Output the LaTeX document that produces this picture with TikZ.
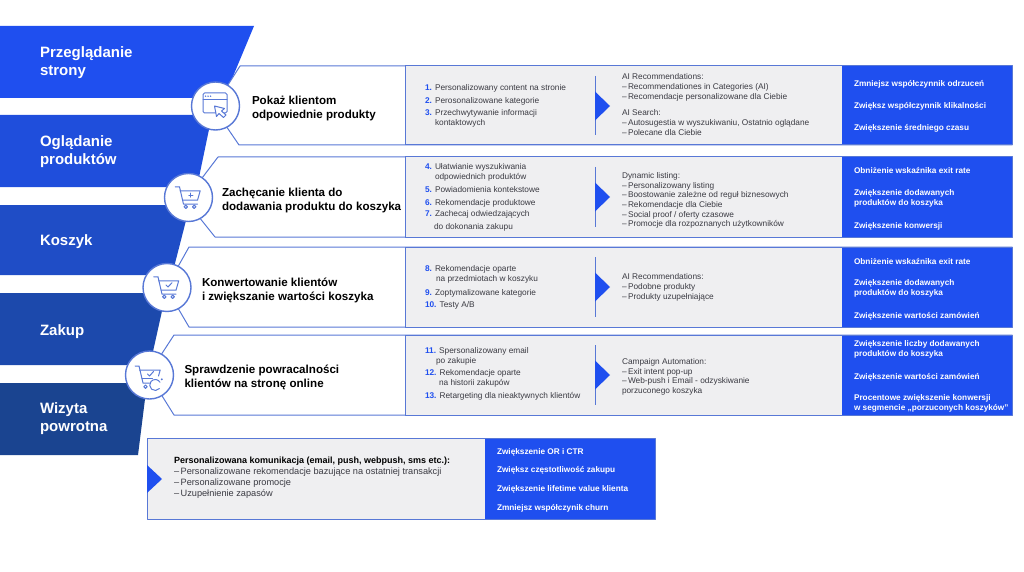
\documentclass[tikz,border=0pt]{standalone}
\usepackage{fontspec}
\setmainfont{Liberation Sans}
\definecolor{lineblue}{HTML}{5878D6}
\definecolor{brand}{HTML}{1F4FEF}
\definecolor{band1}{HTML}{1F4FEF}
\definecolor{band2}{HTML}{1F4EDC}
\definecolor{band3}{HTML}{1F4DC6}
\definecolor{band4}{HTML}{1C49AC}
\definecolor{band5}{HTML}{1A4490}
\definecolor{panel}{HTML}{EFEFF1}
\definecolor{bodyink}{HTML}{3A3A42}
\newcommand{\numb}[1]{\textcolor{brand}{\textbf{#1}}}
\newcommand{\ind}[1]{\hspace*{#1pt}}
\tikzset{
  every node/.style={inner sep=0pt,outer sep=0pt},
  txt/.style={anchor=west,align=left,yshift=-2pt,execute at begin node=\strut,execute at end node=\strut},
  bandlabel/.style={txt,yshift=-1pt,text=white,font=\fontsize{15}{18}\selectfont\bfseries},
  rowtitle/.style={txt,text=black,font=\fontsize{11.6}{14}\selectfont\bfseries},
  listitem/.style={txt,text=bodyink,font=\fontsize{8.3}{10}\selectfont},
  tool/.style={txt,text=bodyink,font=\fontsize{8.3}{9.67}\selectfont},
  goal/.style={txt,text=white,font=\fontsize{8.25}{10}\selectfont\bfseries},
  rowline/.style={draw=lineblue,line width=1pt,line join=round},
  iconline/.style={draw=lineblue,line width=1pt,line join=round,line cap=round},
  badge/.style={circle,draw=lineblue,fill=white,line width=1.4pt,minimum size=48pt},
  tri/.style={fill=brand},
}
\newcommand{\rowbox}[9]{% x1 y1 x2 y2 x3 y3 x4 y4 arrow-centre
  \draw[rowline,fill=white] (#1,#2) -- (1012,#2) -- (1012,#4) -- (#3,#4) -- (#5,#6) -- (#7,#8) -- cycle;
  \fill[panel] (405,#2) rectangle (841.5,#4);
  \fill[brand] (841.5,#2) rectangle (1012,#4);
  \draw[rowline] (405,#2) -- (1012,#2) -- (1012,#4) -- (405,#4);
  \draw[rowline] (405,#2) -- (405,#4);
  \draw[draw=lineblue,line width=0.8pt] (595,#2+10) -- (595,#4-10);
  \fill[tri] (595,#9-14.5) -- (610,#9) -- (595,#9+14.5) -- cycle;
}
\begin{document}
\begin{tikzpicture}[x=1pt,y=-1pt]
\useasboundingbox (0,0) rectangle (1024,572);
% funnel bands
\fill[band1] (0,26) -- (254,26) -- (224,98) -- (0,98) -- cycle;
\fill[band2] (0,115) -- (212,115) -- (197,187) -- (0,187) -- cycle;
\fill[band3] (0,205) -- (190,205) -- (172,275) -- (0,275) -- cycle;
\fill[band4] (0,293) -- (166,293) -- (150,365) -- (0,365) -- cycle;
\fill[band5] (0,383) -- (147,383) -- (138,455) -- (0,455) -- cycle;
\node[bandlabel] (b1) at (40,61) {Przeglądanie\\strony};
\node[bandlabel] (b2) at (40,150) {Oglądanie\\produktów};
\node[bandlabel] (b3) at (40,239) {Koszyk};
\node[bandlabel] (b4) at (40,329) {Zakup};
\node[bandlabel] (b5) at (40,417) {Wizyta\\powrotna};
% rows
\rowbox{240}{66}{239}{145}{224}{123}{226}{88}{106}
\rowbox{218}{157}{215}{237}{199}{217}{199}{182}{197}
\rowbox{189}{247}{189}{327}{175}{303}{175}{272}{287}
\rowbox{174}{335}{174}{415}{159}{391}{159}{358}{375}
% badges
\node[badge] (c1) at (215.5,106) {};
\node[badge] (c2) at (188.5,197.5) {};
\node[badge] (c3) at (167,287.5) {};
\node[badge] (c4) at (149.5,375) {};
% icon 1: browser window and pointer
\begin{scope}[shift={(c1.center)}]
  \draw[iconline,rounded corners=1.5pt] (-12.5,-13) rectangle (11.5,7);
  \draw[iconline] (-12.5,-6.5) -- (11.5,-6.5);
  \fill[lineblue] (-10,-9.8) circle (0.8) (-7.5,-9.8) circle (0.8) (-5,-9.8) circle (0.8);
  \draw[iconline,fill=white] (-1,0) -- (9,2.5) -- (6,5) -- (10.5,9) -- (8,11.5) -- (3.5,7.5) -- (1,10.5) -- cycle;
\end{scope}
% icon 2: cart with plus
\begin{scope}[shift={(c2.center)}]
  \draw[iconline] (-13.3,-10.7) -- (-9,-10.7) -- (-5,6.7) -- (9,6.7);
  \draw[iconline] (-8.5,-6.7) -- (11.7,-6.7) -- (9,2.7) -- (-6,2.7);
  \draw[iconline] (-2.7,9.3) circle (1.7) (5.7,9.3) circle (1.7);
  \draw[iconline] (0.3,-2.3) -- (4.3,-2.3) (2.3,-4.3) -- (2.3,-0.3);
\end{scope}
% icon 3: cart with tick
\begin{scope}[shift={(c3.center)}]
  \draw[iconline] (-13.3,-10.7) -- (-9,-10.7) -- (-5,6.7) -- (9,6.7);
  \draw[iconline] (-8.5,-6.7) -- (11.7,-6.7) -- (9,2.7) -- (-6,2.7);
  \draw[iconline] (-2.7,9.3) circle (1.7) (5.7,9.3) circle (1.7);
  \draw[iconline] (-1,-2.5) -- (1,-0.5) -- (5,-4.8);
\end{scope}
% icon 4: cart with tick and return arrow
\begin{scope}[shift={(c4.center)}]
  \draw[iconline] (-14.3,-9) -- (-10.5,-9) -- (-6.5,8) -- (0,8);
  \draw[iconline] (-10,-5) -- (10.7,-5) -- (9,1);
  \draw[iconline] (-7.5,3) -- (3,3);
  \draw[iconline] (-4,11.7) circle (1.7);
  \draw[iconline] (-2,-1) -- (0,1) -- (4,-3.5);
  \draw[iconline] (5.7,10) ++(40:5.5) arc[start angle=40,end angle=330,radius=5.5];
  \fill[lineblue] (12.3,4.3) circle (1.1);
\end{scope}
% row titles
\node[rowtitle] (t1) at (252,107) {Pokaż klientom\\odpowiednie produkty};
\node[rowtitle] (t2) at (222,199) {Zachęcanie klienta do\\dodawania produktu do koszyka};
\node[rowtitle] (t3) at (202,289) {Konwertowanie klientów\\i zwiększanie wartości koszyka};
\node[rowtitle] (t4) at (184.5,376) {Sprawdzenie powracalności\\klientów na stronę online};
% list items
\node[listitem] (i1) at (425,87) {\numb{1.} Personalizowany content na stronie};
\node[listitem] (i2) at (425,100) {\numb{2.} Perosonalizowane kategorie};
\node[listitem] (i3) at (425,117) {\numb{3.} Przechwytywanie informacji\\\ind{10}kontaktowych};
\node[listitem] (i4) at (425,171) {\numb{4.} Ułatwianie wyszukiwania\\\ind{10}odpowiednich produktów};
\node[listitem] (i5) at (425,188) {\numb{5.} Powiadomienia kontekstowe};
\node[listitem] (i6) at (425,201) {\numb{6.} Rekomendacje produktowe};
\node[listitem,font=\fontsize{8.3}{13}\selectfont] (i7) at (425,219.5) {\numb{7.} Zachecaj odwiedzających\\\ind{9}do dokonania zakupu};
\node[listitem] (i8) at (425,273) {\numb{8.} Rekomendacje oparte\\\ind{11}na przedmiotach w koszyku};
\node[listitem] (i9) at (425,291) {\numb{9.} Zoptymalizowane kategorie};
\node[listitem] (i10) at (425,303) {\numb{10.} Testy A/B};
\node[listitem] (i11) at (425,355) {\numb{11.} Spersonalizowany email\\\ind{11}po zakupie};
\node[listitem] (i12) at (425,377) {\numb{12.} Rekomendacje oparte\\\ind{14}na historii zakupów};
\node[listitem] (i13) at (425,394) {\numb{13.} Retargeting dla nieaktywnych klientów};
% tools
\node[tool] (p1) at (622,86) {AI Recommendations:\\–\,Recommendationes in Categories (AI)\\–\,Recomendacje personalizowane dla Ciebie};
\node[tool] (p2) at (622,122) {AI Search:\\–\,Autosugestia w wyszukiwaniu, Ostatnio oglądane\\–\,Polecane dla Ciebie};
\node[tool] (p3) at (622,199) {Dynamic listing:\\–\,Personalizowany listing\\–\,Boostowanie zależne od reguł biznesowych\\–\,Rekomendacje dla Ciebie\\–\,Social proof / oferty czasowe\\–\,Promocje dla rozpoznanych użytkowników};
\node[tool] (p4) at (622,286) {AI Recommendations:\\–\,Podobne produkty\\–\,Produkty uzupełniające};
\node[tool] (p5) at (622,375.5) {Campaign Automation:\\–\,Exit intent pop-up\\–\,Web-push i Email - odzyskiwanie\\porzuconego koszyka};
% goals
\node[goal] (g1) at (854,83) {Zmniejsz współczynnik odrzuceń};
\node[goal] (g2) at (854,105) {Zwiększ współczynnik klikalności};
\node[goal] (g3) at (854,127) {Zwiększenie średniego czasu};
\node[goal] (g4) at (854,170) {Obniżenie wskaźnika exit rate};
\node[goal] (g5) at (854,197) {Zwiększenie dodawanych\\produktów do koszyka};
\node[goal] (g6) at (854,224) {Zwiększenie konwersji};
\node[goal] (g7) at (854,260) {Obniżenie wskaźnika exit rate};
\node[goal] (g8) at (854,287) {Zwiększenie dodawanych\\produktów do koszyka};
\node[goal] (g9) at (854,314) {Zwiększenie wartości zamówień};
\node[goal] (g10) at (854,348) {Zwiększenie liczby dodawanych\\produktów do koszyka};
\node[goal] (g11) at (854,375) {Zwiększenie wartości zamówień};
\node[goal] (g12) at (854,402) {Procentowe zwiększenie konwersji\\w segmencie „porzuconych koszyków”};
% bottom panel
\fill[panel] (147,438) rectangle (485,519);
\fill[brand] (485,438) rectangle (655,519);
\draw[rowline] (147,438) rectangle (655,519);
\fill[tri] (147,465) -- (162,479) -- (147,493) -- cycle;
\node[tool,font=\fontsize{9.2}{11}\selectfont] (q1) at (174,476.5) {\textbf{\textcolor{black}{\fontsize{9}{11}\selectfont Personalizowana komunikacja (email, push, webpush, sms etc.):}}\\–\,Personalizowane rekomendacje bazujące na ostatniej transakcji\\–\,Personalizowane promocje\\–\,Uzupełnienie zapasów};
\node[goal] (h1) at (497,450) {Zwiększenie OR i CTR};
\node[goal] (h2) at (497,468.5) {Zwiększ częstotliwość zakupu};
\node[goal] (h3) at (497,487) {Zwiększenie lifetime value klienta};
\node[goal] (h4) at (497,506) {Zmniejsz współczynik churn};
\end{tikzpicture}
\end{document}
